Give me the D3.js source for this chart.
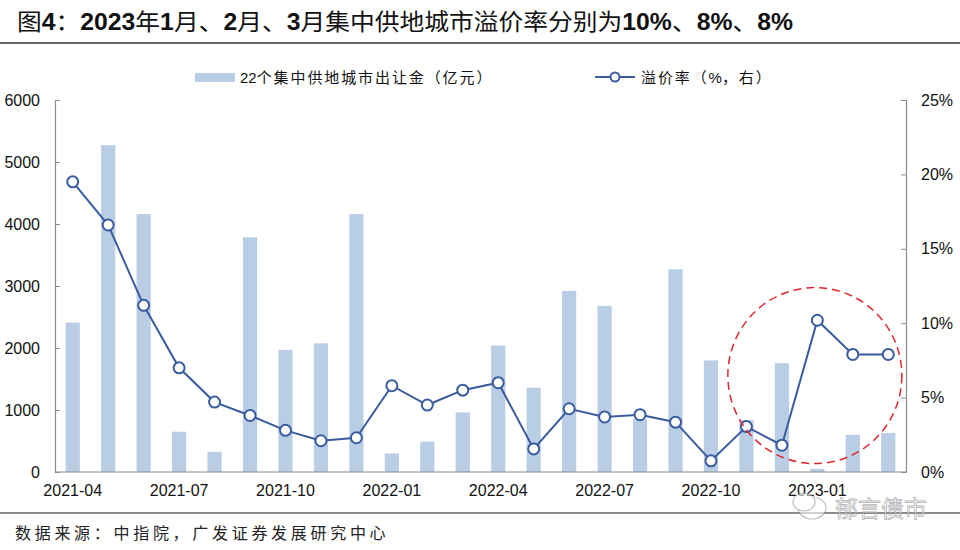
<!DOCTYPE html>
<html><head><meta charset="utf-8">
<script src="https://cdn.jsdelivr.net/npm/d3@7"></script>
<style>
body{margin:0;background:#fff;}
svg{display:block;}
text{font-family:"Liberation Sans","Noto Sans CJK SC",sans-serif;}
</style></head>
<body><svg id="chart" width="960" height="550"></svg>
<script>
const months = ["2021-04","2021-05","2021-06","2021-07","2021-08","2021-09","2021-10","2021-11","2021-12",
  "2022-01","2022-02","2022-03","2022-04","2022-05","2022-06","2022-07","2022-08","2022-09","2022-10","2022-11","2022-12",
  "2023-01","2023-02","2023-03"];
const tickLabels = ["2021-04","2021-07","2021-10","2022-01","2022-04","2022-07","2022-10","2023-01"];
const landSales = [2410,5270,4160,650,325,3785,1970,2075,4160,300,490,960,2040,1360,2920,2680,850,3270,1800,835,1755,50,600,630];
const premiumRate = [19.5,16.6,11.2,7.0,4.7,3.8,2.8,2.1,2.3,5.8,4.5,5.5,6.0,1.55,4.25,3.7,3.85,3.35,0.75,3.05,1.8,10.2,7.9,7.9];
const leftTicks = [0,1000,2000,3000,4000,5000,6000];
const rightTicks = [0,5,10,15,20,25];
const titleText = "图4：2023年1月、2月、3月集中供地城市溢价率分别为10%、8%、8%";
const barLegend = "22个集中供地城市出让金（亿元）";
const lineLegend = "溢价率（%，右）";
const sourceText = "数据来源：中指院，广发证券发展研究中心";
const watermark = "郁言债市";

const svg = d3.select("#chart");
const L = 55, R = 906, T = 100, B = 472;
const barColor = "#B9CDE5", lineColor = "#3A5CA0", axisColor = "#8C8C8C";

const x = d3.scaleBand().domain(months).range([L, R]).paddingInner(0.6).paddingOuter(0.3);
const yL = d3.scaleLinear().domain([0, 6000]).range([B, T]);
const yR = d3.scaleLinear().domain([0, 25]).range([B, T]);
const cx = m => x(m) + x.bandwidth() / 2;

function mixedText(sel, str, asciiBold, cjkSpacing) {
  const runs = str.match(/[\x00-\x7F]+|[^\x00-\x7F]+/g);
  runs.forEach(r => {
    const ascii = /^[\x00-\x7F]+$/.test(r);
    sel.append("tspan").text(r)
      .attr("font-weight", ascii && asciiBold ? "bold" : "normal")
      .attr("letter-spacing", ascii ? 0 : cjkSpacing)
      .attr("font-family", ascii ? "Liberation Sans" : "Noto Sans CJK SC");
  });
}

// title
const title = svg.append("text").attr("x", 17).attr("y", 30).attr("font-size", 23).attr("fill", "#111");
mixedText(title, titleText, true, 0);
title.attr("textLength", 776).attr("lengthAdjust", "spacingAndGlyphs");
svg.append("line").attr("x1", 0).attr("x2", 960).attr("y1", 43).attr("y2", 43).attr("stroke", "#666").attr("stroke-width", 2);

// bars
svg.append("g").selectAll("rect").data(months).join("rect")
  .attr("x", d => x(d)).attr("width", x.bandwidth())
  .attr("y", (d, i) => yL(landSales[i])).attr("height", (d, i) => B - yL(landSales[i]))
  .attr("fill", barColor);

// axes
const gL = svg.append("g").attr("transform", `translate(${L},0)`)
  .call(d3.axisLeft(yL).tickValues(leftTicks).tickSize(-5).tickPadding(15).tickFormat(d3.format("d")));
const gR = svg.append("g").attr("transform", `translate(${R},0)`)
  .call(d3.axisRight(yR).tickValues(rightTicks).tickSize(-5).tickPadding(15).tickFormat(d => d + "%"));
const gB = svg.append("g").attr("transform", `translate(0,${B})`)
  .call(d3.axisBottom(x).tickValues(tickLabels).tickSize(0).tickPadding(13));
[gL, gR, gB].forEach(g => {
  g.select(".domain").attr("stroke", axisColor).attr("stroke-width", 1.2);
  g.selectAll(".tick line").attr("stroke", axisColor);
  g.selectAll(".tick text").attr("font-size", 16).attr("fill", "#111").attr("font-family", "Liberation Sans");
});
gB.select(".domain").attr("d", `M${L},0H${R}`);

// line
const line = d3.line().x((d, i) => cx(months[i])).y(d => yR(d));
svg.append("path").datum(premiumRate).attr("d", line).attr("fill", "none").attr("stroke", lineColor).attr("stroke-width", 2);
svg.append("g").selectAll("circle").data(premiumRate).join("circle")
  .attr("cx", (d, i) => cx(months[i])).attr("cy", d => yR(d)).attr("r", 5.5)
  .attr("fill", "#fff").attr("stroke", lineColor).attr("stroke-width", 2);

// red dashed annotation circle
svg.append("ellipse").attr("cx", cx("2023-01") - 2.5).attr("cy", yL(1555)).attr("rx", 87).attr("ry", 88)
  .attr("fill", "none").attr("stroke", "#E0262C").attr("stroke-width", 1.5).attr("stroke-dasharray", "8,5");

// legend
svg.append("rect").attr("x", 195).attr("y", 73).attr("width", 40).attr("height", 9).attr("fill", barColor);
const lt1 = svg.append("text").attr("x", 240).attr("y", 83).attr("font-size", 15).attr("fill", "#111");
mixedText(lt1, barLegend, false, 1.9);
svg.append("line").attr("x1", 595).attr("x2", 635).attr("y1", 77).attr("y2", 77).attr("stroke", lineColor).attr("stroke-width", 2);
svg.append("circle").attr("cx", 615).attr("cy", 77).attr("r", 4.5).attr("fill", "#fff").attr("stroke", lineColor).attr("stroke-width", 2);
const lt2 = svg.append("text").attr("x", 641).attr("y", 83).attr("font-size", 15).attr("fill", "#111");
mixedText(lt2, lineLegend, false, 1.9);

// bottom rule and source
svg.append("line").attr("x1", 0).attr("x2", 960).attr("y1", 513).attr("y2", 513).attr("stroke", "#666").attr("stroke-width", 1.5);
svg.append("text").attr("x", 15).attr("y", 539).attr("font-size", 16).attr("letter-spacing", 3.7).attr("fill", "#222")
  .attr("font-family", "Noto Sans CJK SC").text(sourceText);

// watermark
const wm = svg.append("g").attr("opacity", 0.6);
wm.append("ellipse").attr("cx", 812).attr("cy", 508).attr("rx", 14).attr("ry", 11).attr("fill", "#fff").attr("stroke", "#999").attr("stroke-width", 1.2);
wm.append("ellipse").attr("cx", 804).attr("cy", 502).attr("rx", 11).attr("ry", 9).attr("fill", "#fff").attr("stroke", "#999").attr("stroke-width", 1.2);
wm.append("text").attr("x", 835).attr("y", 517).attr("font-size", 23).attr("fill", "#fff").attr("stroke", "#888").attr("stroke-width", 0.8)
  .attr("font-family", "Noto Sans CJK SC").text(watermark);
</script></body></html>
